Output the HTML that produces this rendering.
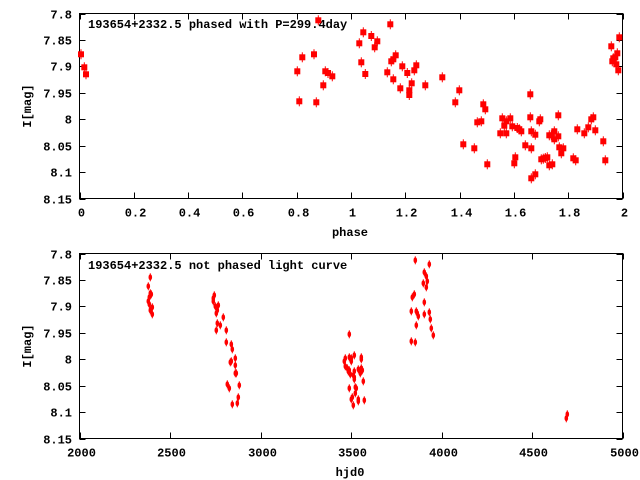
<!DOCTYPE html>
<html><head><meta charset="utf-8"><style>
html,body{margin:0;padding:0;background:#fff;}
svg{display:block;font-family:"Liberation Mono",monospace;font-weight:bold;font-size:12px;}
</style></head><body>
<svg id="s" width="640" height="480" xmlns="http://www.w3.org/2000/svg">
<rect width="640" height="480" fill="#fff"/>
<g id="g"></g>
</svg>
<script>
var g=document.getElementById('g'),h='';
function L(x1,y1,x2,y2){h+='<line x1="'+x1+'" y1="'+y1+'" x2="'+x2+'" y2="'+y2+'" stroke="#000" stroke-width="1"/>';}
function T(x,y,t,a){h+='<text x="'+x+'" y="'+y+'" text-anchor="'+(a||'middle')+'">'+t+'</text>';}
function frame(top,bot,xl,yl){
 var l=79.5,r=622.5;
 h+='<rect x="'+l+'" y="'+top+'" width="'+(r-l)+'" height="'+(bot-top)+'" fill="none" stroke="#000"/>';
 for(var i=0;i<8;i++){var y=top+(bot-top)*i/7;y=Math.round(y)+0.5;L(l,y,l+6,y);L(r,y,r-6,y);T(72,y+4,yl[i],'end');}
 for(var i=0;i<xl.length;i++){var x=l+(r-l)*i/(xl.length-1);x=Math.round(x)+0.5;L(x,top,x,top+6);L(x,bot,x,bot-6);T(x+1,bot+18,xl[i]);}
}
var yl=['7.8','7.85','7.9','7.95','8','8.05','8.1','8.15'];
frame(13.5,198.5,['0','0.2','0.4','0.6','0.8','1','1.2','1.4','1.6','1.8','2'],yl);
frame(253.5,438.5,['2000','2500','3000','3500','4000','4500','5000'],yl);
T(88,28,'193654+2332.5 phased with P=299.4day','start');
T(88,269,'193654+2332.5 not phased light curve','start');
T(350,236,'phase');T(350,476,'hjd0');
h+='<text transform="translate(31,106) rotate(-90)" text-anchor="middle">I[mag]</text>';
h+='<text transform="translate(31,346) rotate(-90)" text-anchor="middle">I[mag]</text>';
var A=[81,54.3,84.3,67.3,86,74.3,297.3,71.3,299.3,101.3,302.3,57.3,314,54.3,316.3,102.3,318.3,20.3,
323.3,85.3,325.3,71.3,328,73,332.3,76.3,359.3,43.3,363.3,32.3,361.3,62.3,365.3,74,371.3,36,374.7,47.3,377.3,41.3,387.3,72.3,390.3,24.3,391.3,61.3,393.3,59.3,395.7,55.3,393.3,79.3,400.3,88.3,402.3,66.3,407.3,73,409.3,90.3,409.3,95,411.7,83.3,414.3,70.3,416.3,65.3,425.3,85.3,442.3,77.3,455.3,102.3,459.3,90.3,463.3,144.3,474.3,148.3,477.3,122.3,481.3,121.3,483.3,104.3,485.3,109.3,487.3,164.3,500.3,133.3,502.3,118.3,504.3,125.7,506.3,121.3,506.3,133.3,510.3,118.3,512.3,126.3,514.3,163.3,515.3,157.3,517.3,128,519.3,129.3,521.3,131.3,525.3,145.3,530.3,94.3,530.3,117.3,531.3,131.3,531.3,148.3,531.3,178.3,535.3,134.7,535.3,174.3,539.3,121.3,540.3,119.3,541.3,159.3,543.3,158.7,545.3,158,547.3,157.3,549.3,135.3,549.3,165.3,551.3,135.3,552.3,164.3,554.3,131.3,554.3,139.3,558.3,115.3,558.3,136.3,559.3,147.3,561.3,153.3,563.3,148.3,573.3,158.3,575.7,160.3,577.3,129.3,584.3,133.3,588.3,127.3,591.3,119.3,593.3,117.3,595.3,130.3,603.3,141.3,605.3,160.3,611.3,46.3,612.3,61.3,613.3,58.3,615.3,57.3,617.3,53.3,616.3,64.3,618.3,70.3,619.3,37.3];
for(var i=0;i<A.length;i+=2){var x=A[i],y=A[i+1];
 h+='<rect x="'+(x-3)+'" y="'+(y-3)+'" width="6" height="6" fill="#f00"/>';
 h+='<line x1="'+x+'" y1="'+(y-5)+'" x2="'+x+'" y2="'+(y+5)+'" stroke="#f00"/>';}
var B=[150.3,277.3,148.3,286.3,150.3,293.3,151.3,294.3,149.3,297.3,148.3,301.3,149.3,304.3,152.3,307.3,150.3,310.3,152.3,314.3,214.3,295.3,213.3,298.3,213.3,301.3,215.3,306.3,218.3,305.3,217.3,310.3,216.3,313.3,217.3,323.3,220.3,325.3,216.3,330.3,223.3,317.3,226.3,330.3,226.3,342.3,231.3,344.3,232.3,349.3,235.3,358.3,231.3,361.3,230.3,362.3,235.3,365.3,236.3,373.3,235.3,373.3,227.3,384.3,229.3,388.3,239.3,385.3,238.3,397.3,237.3,403.3,232.3,404.3,
349.3,334.3,344.3,361.3,345.3,358.3,349.3,357.3,351.3,358.3,351.3,361.3,354.3,355.3,361.3,357.3,361.3,359.3,345.3,366.3,347.3,368.3,348.3,371.3,349.3,370.3,350.3,374.3,353.3,375.3,354.3,371.3,354.3,377.3,354.3,379.3,358.3,369.3,360.3,373.3,361.3,368.3,362.3,370.3,363.3,381.3,349.3,388.3,355.3,387.3,356.3,388.3,355.3,393.3,351.3,399.3,352.3,397.3,353.3,405.3,358.3,399.3,358.3,401.3,364.3,400.3,
415.3,260.3,429.3,264.3,424.3,272.3,426.3,276.3,427.3,281.3,423.3,283.3,426.3,287.3,414.3,294.3,412.3,297.3,424.3,302.3,411.3,311.3,416.3,311.3,417.3,313.3,418.3,316.3,424.3,314.3,429.3,312.3,430.3,319.3,416.3,325.3,431.3,328.3,411.3,341.3,415.3,342.3,433.3,335.3,566.3,418.3,567.3,414.3];
for(var i=0;i<B.length;i+=2){var x=B[i],y=B[i+1];
 h+='<ellipse cx="'+x+'" cy="'+y+'" rx="1.8" ry="3" fill="#f00"/>';
 h+='<line x1="'+x+'" y1="'+(y-4)+'" x2="'+x+'" y2="'+(y+4)+'" stroke="#f00"/>';}
g.innerHTML=h;
</script>
</body></html>
